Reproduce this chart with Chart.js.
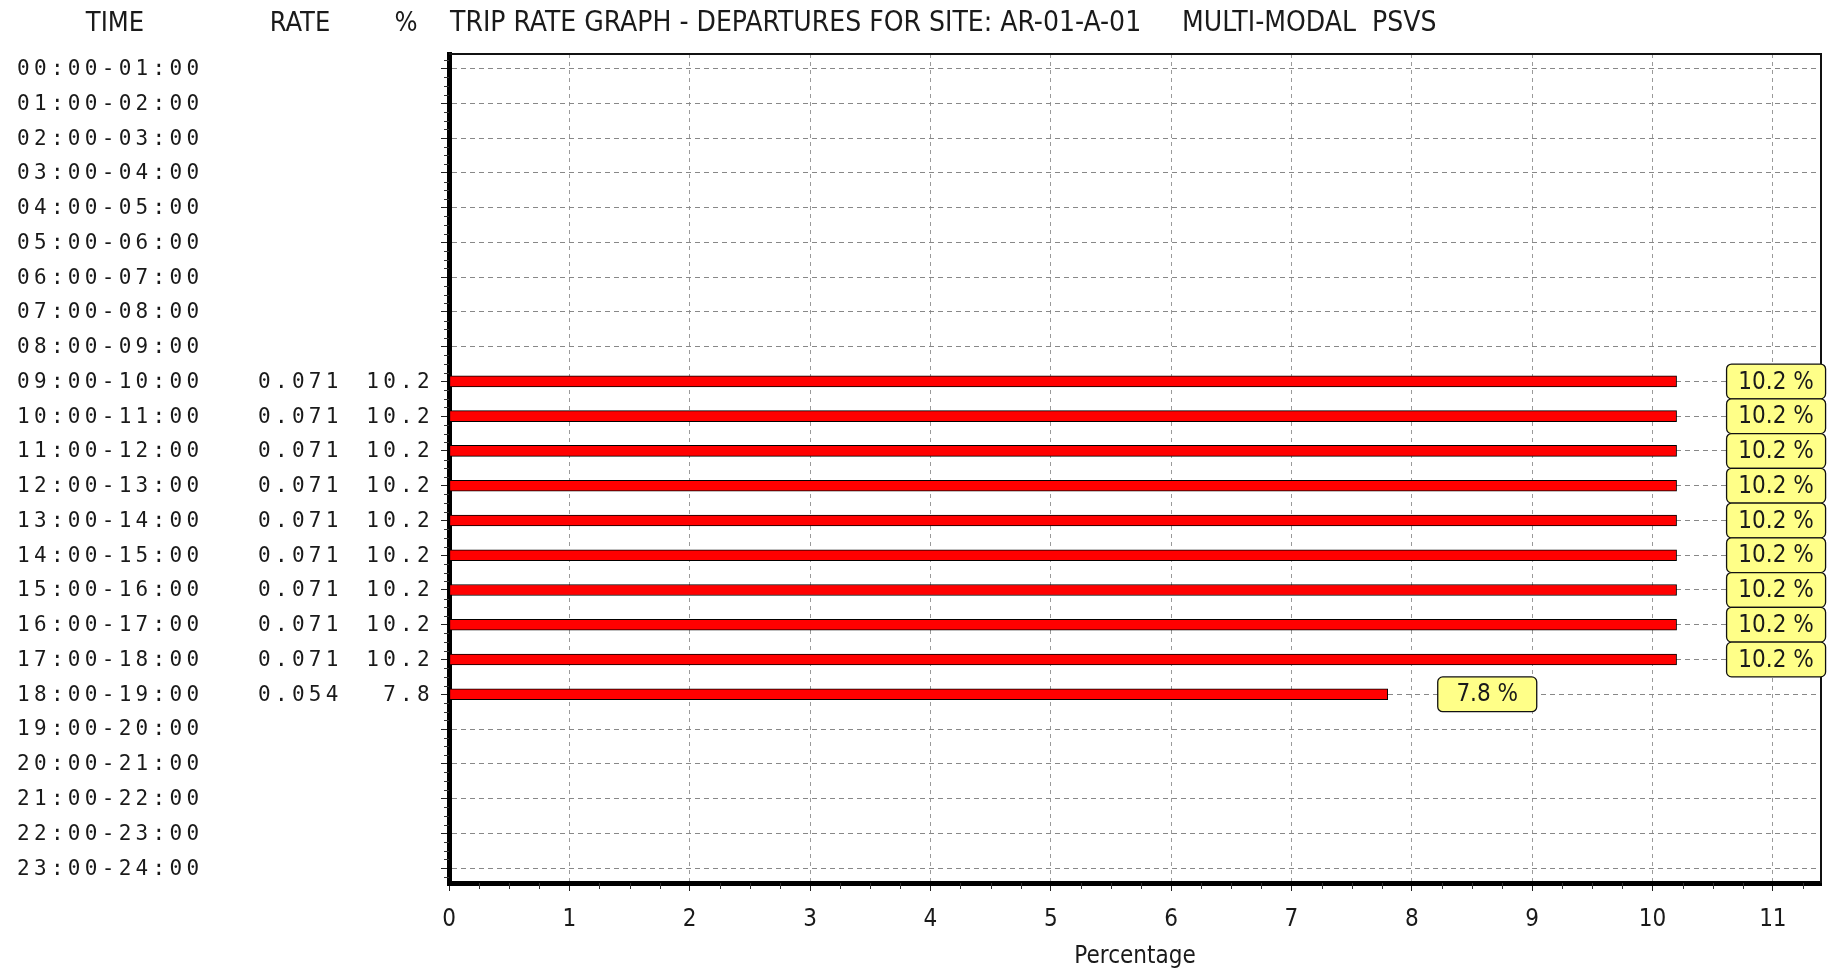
<!DOCTYPE html>
<html>
<head>
<meta charset="utf-8">
<title>Trip rate graph - departures</title>
<script src="https://cdn.jsdelivr.net/npm/chart.js"></script>
<style>
    html, body { margin: 0; padding: 0; background: #fff; }
    #caixa { position: relative; width: 1839px; height: 969px; }
</style>
</head>
<body>
<div id="caixa"><canvas id="grafico-viagens"></canvas></div>
<script>
// dados
const horarios = [
    '00:00-01:00', '01:00-02:00', '02:00-03:00', '03:00-04:00', '04:00-05:00', '05:00-06:00',
    '06:00-07:00', '07:00-08:00', '08:00-09:00', '09:00-10:00', '10:00-11:00', '11:00-12:00',
    '12:00-13:00', '13:00-14:00', '14:00-15:00', '15:00-16:00', '16:00-17:00', '17:00-18:00',
    '18:00-19:00', '19:00-20:00', '20:00-21:00', '21:00-22:00', '22:00-23:00', '23:00-24:00'
];
const taxas = [
    null, null, null, null, null, null, null, null, null,
    0.071, 0.071, 0.071, 0.071, 0.071, 0.071, 0.071, 0.071, 0.071,
    0.054, null, null, null, null, null
];
const percentuais = [
    null, null, null, null, null, null, null, null, null,
    10.2, 10.2, 10.2, 10.2, 10.2, 10.2, 10.2, 10.2, 10.2,
    7.8, null, null, null, null, null
];
const cabecalhos = ['TIME', 'RATE', '%'];
const titulo = 'TRIP RATE GRAPH - DEPARTURES FOR SITE: AR-01-A-01';
const subtitulo = 'MULTI-MODAL  PSVS';
const tituloEixoX = 'Percentage';

const fonteEstreita = '"Liberation Sans Narrow", "DejaVu Sans Condensed", "Arial Narrow", sans-serif';
const fonteMono = '"DejaVu Sans Mono", "Liberation Mono", monospace';

// pontos das barras (linha = índice do horário)
const pontosBarras = [];
percentuais.forEach((valor, i) => {
    if (valor !== null) pontosBarras.push({ x: valor, y: i });
});

// moldura, tracinhos menores e caixas amarelas
const pluginRotulos = {
    id: 'rotulos',
    afterDatasetsDraw(chart) {
        const ctx = chart.ctx;
        const area = chart.chartArea;
        const x = chart.scales.x;
        const y = chart.scales.y;
        ctx.save();

        // borda de cima e da direita
        ctx.strokeStyle = '#111';
        ctx.lineWidth = 2;
        ctx.beginPath();
        ctx.moveTo(area.left, area.top);
        ctx.lineTo(area.right, area.top);
        ctx.lineTo(area.right, area.bottom);
        ctx.stroke();

        // tracinhos menores
        ctx.lineWidth = 1;
        ctx.strokeStyle = '#333';
        ctx.beginPath();
        for (let i = 1; i * 0.25 <= x.max; i++) {
            if (i % 4 === 0) continue;
            const px = Math.round(x.getPixelForValue(i * 0.25)) + 0.5;
            ctx.moveTo(px, area.bottom);
            ctx.lineTo(px, area.bottom + 6);
        }
        for (let i = -1; i < horarios.length * 4; i++) {
            if (i % 4 === 0) continue;
            const py = Math.round(y.getPixelForValue(i * 0.25)) + 0.5;
            if (py < area.top || py > area.bottom) continue;
            ctx.moveTo(area.left, py);
            ctx.lineTo(area.left - 5, py);
        }
        ctx.stroke();

        const alturaLinha = Math.abs(y.getPixelForValue(1) - y.getPixelForValue(0));
        ctx.font = '24px ' + fonteEstreita;
        ctx.textAlign = 'center';
        ctx.textBaseline = 'middle';
        percentuais.forEach((valor, i) => {
            if (valor === null) return;
            const bx = x.getPixelForValue(valor) + 50;
            const by = y.getPixelForValue(i) - alturaLinha / 2;
            ctx.beginPath();
            ctx.roundRect(bx, by, 99, alturaLinha, 5);
            ctx.fillStyle = '#ffff88';
            ctx.fill();
            ctx.lineWidth = 1.3;
            ctx.strokeStyle = '#111';
            ctx.stroke();
            ctx.fillStyle = '#1a1a1a';
            ctx.fillText(valor.toFixed(1) + ' %', bx + 49.5, by + alturaLinha / 2 + 1);
        });
        ctx.restore();
    }
};

// cabeçalho e colunas de texto à esquerda
const pluginTabela = {
    id: 'tabela',
    afterDraw(chart) {
        const ctx = chart.ctx;
        const y = chart.scales.y;
        ctx.save();
        ctx.fillStyle = '#1a1a1a';
        ctx.textBaseline = 'middle';

        ctx.font = '27px ' + fonteEstreita;
        ctx.textAlign = 'center';
        ctx.fillText(cabecalhos[0], 115, 24);
        ctx.fillText(cabecalhos[1], 300, 24);
        ctx.fillText(cabecalhos[2], 406, 24);
        ctx.textAlign = 'left';
        ctx.font = '28px ' + fonteEstreita;
        ctx.fillText(titulo, 450, 24);
        ctx.fillText(subtitulo, 1182, 24);

        ctx.font = '21px ' + fonteMono;
        ctx.letterSpacing = '4.3px';
        horarios.forEach((h, i) => {
            const py = y.getPixelForValue(i) + 1;
            ctx.textAlign = 'left';
            ctx.fillText(h, 17, py);
            if (taxas[i] !== null) {
                ctx.fillText(taxas[i].toFixed(3), 258, py);
                ctx.textAlign = 'right';
                ctx.fillText(percentuais[i].toFixed(1), 434, py);
            }
        });
        ctx.restore();
    }
};

const ctx = document.getElementById('grafico-viagens').getContext('2d');
const graficoViagens = new Chart(ctx, {
    type: 'bar',
    data: {
        datasets: [{
            label: 'Percentage',
            data: pontosBarras,
            backgroundColor: '#ff0000',
            borderColor: '#000',
            borderWidth: 1,
            borderSkipped: false,
            barThickness: 11
        }]
    },
    options: {
        indexAxis: 'y',
        responsive: true,
        maintainAspectRatio: false,
        animation: false,
        layout: { padding: { top: 54, right: 18, left: 0, bottom: 0 } },
        plugins: {
            legend: { display: false },
            tooltip: { enabled: false }
        },
        scales: {
            x: {
                type: 'linear',
                position: 'bottom',
                min: 0,
                max: 11.4,
                ticks: {
                    stepSize: 1,
                    includeBounds: false,
                    color: '#1a1a1a',
                    padding: 14,
                    font: { family: fonteEstreita, size: 24 }
                },
                grid: {
                    color: '#9a9a9a',
                    tickColor: '#222',
                    tickLength: 8,
                    tickBorderDash: []
                },
                border: { color: '#000', width: 5, dash: [4, 4] },
                title: {
                    display: true,
                    text: tituloEixoX,
                    color: '#1a1a1a',
                    font: { family: fonteEstreita, size: 24, lineHeight: 1 },
                    padding: { top: 0, bottom: 0 }
                },
                afterFit(scale) {
                    scale.height = 86;
                }
            },
            y: {
                type: 'linear',
                reverse: true,
                offset: false,
                min: -0.42,
                max: 23.43,
                ticks: { display: false, stepSize: 1, includeBounds: false },
                grid: {
                    offset: false,
                    color: '#888',
                    tickColor: '#222',
                    tickLength: 8,
                    tickBorderDash: []
                },
                border: { color: '#000', width: 5, dash: [5, 4] },
                afterFit(scale) {
                    scale.width = 449;
                }
            }
        }
    },
    plugins: [pluginRotulos, pluginTabela]
});
</script>
</body>
</html>
